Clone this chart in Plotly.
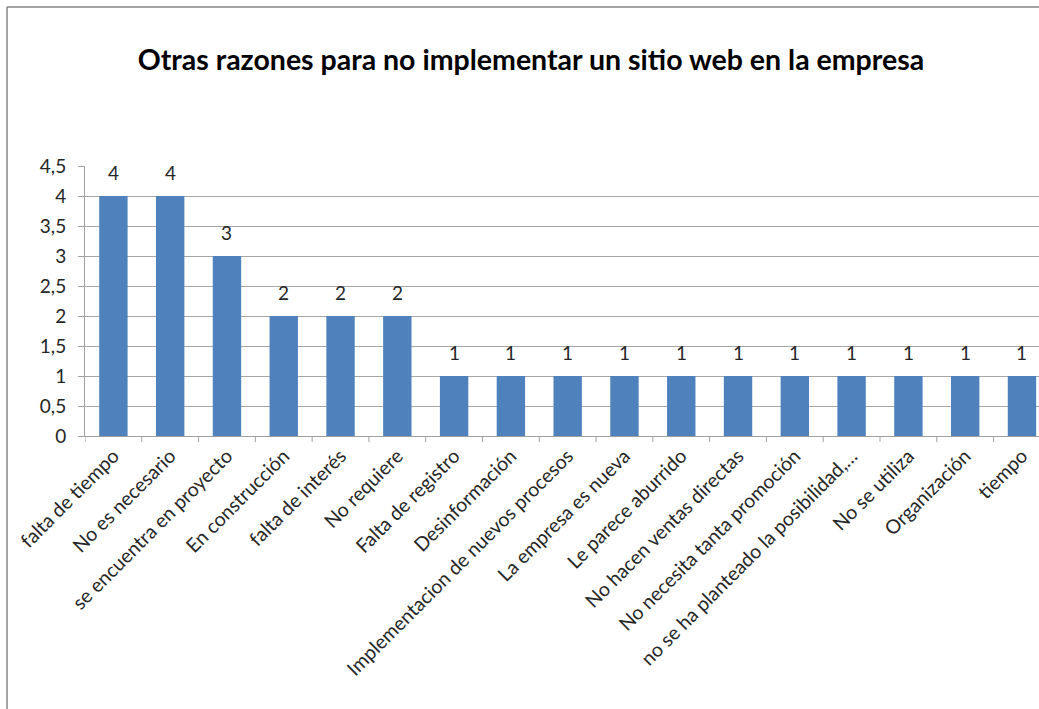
import plotly.graph_objects as go

categories = [
    "falta de tiempo", "No es necesario", "se encuentra en proyecto",
    "En construcción", "falta de interés", "No requiere", "Falta de registro",
    "Desinformación", "Implementacion de nuevos procesos", "La empresa es nueva",
    "Le parece aburrido", "No hacen ventas directas", "No necesita tanta promoción",
    "no se ha planteado la posibilidad,…", "No se utiliza", "Organización", "tiempo",
]
values = [4, 4, 3, 2, 2, 2, 1, 1, 1, 1, 1, 1, 1, 1, 1, 1, 1]
y_tick_vals = [0, 0.5, 1, 1.5, 2, 2.5, 3, 3.5, 4, 4.5]
y_tick_text = ["0", "0,5", "1", "1,5", "2", "2,5", "3", "3,5", "4", "4,5"]
title = "Otras razones para no implementar un sitio web en la empresa"

FONT = "Lato"
W, H = 1039, 709
L, R, T, B = 85, 0, 166, 273
pw = W - L - R
ph = H - T - B

xs = list(range(len(categories)))

fig = go.Figure(go.Bar(
    x=xs,
    y=values,
    marker=dict(color="#4F81BD", line=dict(width=0)),
    width=0.5,
    hoverinfo="x+y",
))

# data labels above bars
for xi, v in zip(xs, values):
    fig.add_annotation(x=xi, y=v, xref="x", yref="y", text=str(v),
                       showarrow=False, yanchor="bottom", yshift=10,
                       font=dict(family=FONT, size=19, color="#262626"))

def px_x(p):
    return (p - L) / pw

def px_y(p):
    return (H - B - p) / ph

fig.update_layout(
    width=W, height=H,
    margin=dict(l=L, r=R, t=T, b=B, pad=0),
    paper_bgcolor="white", plot_bgcolor="white",
    showlegend=False,
    font=dict(family=FONT, size=19, color="#262626"),
    title=dict(text="<b>" + title + "</b>", x=531 / W, xanchor="center",
               y=1 - 60 / H, yanchor="middle",
               font=dict(family=FONT, size=28.5, color="black")),
    xaxis=dict(
        tickmode="array",
        tickvals=xs,
        ticktext=categories,
        range=[-0.5, 16.3],
        tickangle=-45,
        showgrid=False,
        showline=True, linecolor="#A0A0A0", linewidth=1,
        ticks="",
        tickfont=dict(family=FONT, size=19.5, color="#262626"),
        fixedrange=True,
    ),
    yaxis=dict(
        range=[0, 4.5],
        tickmode="array",
        tickvals=y_tick_vals,
        ticktext=y_tick_text,
        showgrid=True, gridcolor="#A6A6A6", gridwidth=1,
        showline=True, linecolor="#A0A0A0", linewidth=1,
        ticks="outside", ticklen=6, tickcolor="#A0A0A0",
        ticklabelstandoff=8,
        tickfont=dict(family=FONT, size=19, color="#262626"),
        zeroline=False,
        fixedrange=True,
    ),
)

# category boundary tick marks on x axis
for i in range(len(categories) + 1):
    fig.add_shape(type="line", xref="x", yref="paper",
                  x0=i - 0.5, x1=i - 0.5, y0=0, y1=-6 / ph,
                  line=dict(color="#A0A0A0", width=1))

# chart border (left and top edges visible)
fig.add_shape(type="line", xref="paper", yref="paper",
              x0=px_x(7), x1=px_x(7), y0=px_y(H + 5), y1=px_y(7),
              line=dict(color="#868686", width=1.5), layer="above")
fig.add_shape(type="line", xref="paper", yref="paper",
              x0=px_x(7), x1=px_x(W + 5), y0=px_y(7), y1=px_y(7),
              line=dict(color="#868686", width=1.5), layer="above")

fig.write_html(
    "out.html",
    config={"displayModeBar": False},
    post_script="document.body.style.margin='0';document.body.style.overflow='hidden';",
)
